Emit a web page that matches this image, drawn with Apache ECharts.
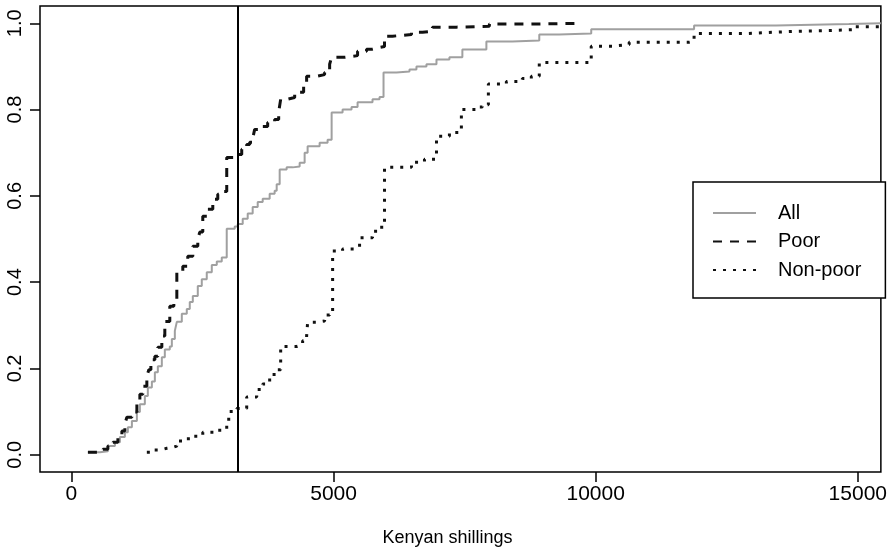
<!DOCTYPE html>
<html>
<head>
<meta charset="utf-8">
<script src="https://cdn.jsdelivr.net/npm/echarts@6/dist/echarts.min.js"></script>
<style>
  html, body { margin: 0; padding: 0; background: #fff; }
  #chart { width: 890px; height: 556px; }
</style>
</head>
<body>
<div id="chart"></div>
<script>
// ECDF step points [shillings, cumulative share]
const allSteps = [
  [314,0.006],[543,0.008],[695,0.020],[829,0.029],[924,0.041],[1019,0.052],[1076,0.064],
  [1153,0.078],[1248,0.099],[1305,0.117],[1400,0.136],[1457,0.156],[1534,0.170],[1591,0.191],
  [1648,0.205],[1724,0.226],[1781,0.244],[1876,0.251],[1915,0.268],[1972,0.287],[2010,0.308],
  [2105,0.327],[2200,0.338],[2257,0.354],[2315,0.368],[2410,0.391],[2486,0.407],[2581,0.423],
  [2677,0.440],[2772,0.448],[2867,0.457],[2962,0.524],[3114,0.529],[3172,0.535],[3267,0.547],
  [3362,0.559],[3457,0.574],[3553,0.586],[3648,0.593],[3781,0.605],[3876,0.612],[3915,0.627],
  [3972,0.661],[4105,0.666],[4220,0.668],[4353,0.677],[4448,0.700],[4505,0.715],[4734,0.723],
  [4886,0.730],[4963,0.793],[5172,0.800],[5343,0.806],[5458,0.817],[5743,0.824],[5877,0.829],
  [5953,0.886],[6201,0.888],[6448,0.893],[6581,0.900],[6772,0.905],[6963,0.916],[7210,0.921],
  [7457,0.939],[7915,0.958],[8410,0.960],[8924,0.974],[9305,0.976],[9915,0.986],[11877,0.995],
  [13439,0.998],[14830,1.0],[15440,1.0]
];
const poorSteps = [
  [314,0.006],[505,0.008],[600,0.013],[695,0.020],[791,0.029],[886,0.043],[962,0.055],
  [1019,0.071],[1057,0.087],[1153,0.099],[1248,0.124],[1305,0.140],[1362,0.159],[1438,0.182],
  [1476,0.197],[1515,0.220],[1591,0.228],[1648,0.249],[1724,0.275],[1781,0.309],[1876,0.344],
  [1953,0.352],[2010,0.423],[2124,0.437],[2219,0.460],[2315,0.483],[2410,0.499],[2448,0.516],
  [2505,0.553],[2600,0.569],[2696,0.592],[2791,0.604],[2886,0.610],[2962,0.689],[3114,0.696],
  [3248,0.708],[3343,0.719],[3400,0.724],[3457,0.733],[3495,0.754],[3629,0.761],[3743,0.770],
  [3876,0.777],[3953,0.794],[3991,0.824],[4124,0.828],[4258,0.835],[4353,0.840],[4429,0.854],
  [4486,0.877],[4677,0.881],[4829,0.886],[4925,0.905],[4963,0.921],[5210,0.925],[5458,0.935],
  [5629,0.940],[5743,0.944],[5877,0.946],[5972,0.970],[6124,0.974],[6486,0.979],[6696,0.981],
  [6886,0.991],[7343,0.993],[7972,0.998],[8734,1.0],[9744,1.0]
];
const nonPoorSteps = [
  [1438,0.006],[1553,0.011],[1686,0.015],[1819,0.017],[1934,0.020],[2010,0.032],[2162,0.037],
  [2315,0.043],[2505,0.052],[2772,0.057],[2905,0.064],[3000,0.100],[3153,0.107],[3343,0.134],
  [3534,0.151],[3648,0.164],[3781,0.186],[3896,0.197],[3991,0.251],[4296,0.255],[4410,0.264],
  [4486,0.275],[4505,0.307],[4677,0.310],[4829,0.324],[4925,0.330],[4982,0.472],[5172,0.477],
  [5401,0.480],[5496,0.503],[5743,0.518],[5877,0.527],[5972,0.666],[6486,0.678],[6734,0.685],
  [6963,0.738],[7210,0.747],[7438,0.800],[7724,0.806],[7838,0.811],[7953,0.859],[8296,0.865],
  [8601,0.872],[8772,0.877],[8924,0.909],[9915,0.947],[10315,0.951],[10639,0.956],[11782,0.958],
  [11877,0.976],[12868,0.979],[13363,0.981],[13744,0.983],[14449,0.985],[14887,0.992],[15440,0.992]
];
const povertyLine = 3170;
const xTicks = [0, 5000, 10000, 15000];
const yTicks = [0, 0.2, 0.4, 0.6, 0.8, 1.0];

const font = "'Liberation Sans', Arial, Helvetica, sans-serif";
const chart = echarts.init(document.getElementById("chart"));

chart.setOption({
  animation: false,
  backgroundColor: "#fff",
  grid: {
    left: 40, right: 8, top: 6, bottom: 84,
    show: true, borderColor: "#000", borderWidth: 1.5, backgroundColor: "transparent"
  },
  xAxis: {
    type: "value",
    min: -600, max: 15440,
    name: "Kenyan shillings",
    nameLocation: "middle",
    nameGap: 57,
    nameTextStyle: { fontFamily: font, fontSize: 18, color: "#000", padding: [0, 26, 0, 0] },
    axisLine: { show: false, onZero: false },
    axisTick: { show: true, length: 10, customValues: xTicks, lineStyle: { color: "#000", width: 1.5 } },
    axisLabel: {
      customValues: xTicks, margin: 12, fontFamily: font, fontSize: 21, color: "#000",
      formatter: v => String(v)
    },
    splitLine: { show: false }
  },
  yAxis: {
    type: "value",
    min: -0.04, max: 1.04,
    axisLine: { show: false, onZero: false },
    axisTick: { show: true, length: 10, customValues: yTicks, lineStyle: { color: "#000", width: 1.5 } },
    axisLabel: {
      customValues: yTicks, rotate: 90, margin: 15,
      fontFamily: font, fontSize: 20, color: "#000",
      formatter: v => v.toFixed(1)
    },
    splitLine: { show: false }
  },
  legend: {
    orient: "vertical",
    left: 693, top: 182,
    padding: [20, 24, 17, 19],
    itemWidth: 43, itemHeight: 14, itemGap: 6.5,
    borderColor: "#000", borderWidth: 1.5, backgroundColor: "#fff",
    selectedMode: false,
    itemStyle: { opacity: 0 },
    textStyle: { fontFamily: font, fontSize: 20, color: "#000", lineHeight: 22, padding: [0, 0, 0, 17] },
    data: ["All", "Poor", "Non-poor"]
  },
  series: [
    {
      name: "All", type: "line", step: "end", symbol: "none", showSymbol: false,
      data: allSteps,
      lineStyle: { color: "#a0a0a0", width: 2 },
      itemStyle: { color: "#a0a0a0" },
      markLine: {
        silent: true, symbol: "none", label: { show: false },
        lineStyle: { color: "#000", width: 2, type: "solid" },
        data: [{ xAxis: povertyLine }]
      }
    },
    {
      name: "Poor", type: "line", step: "end", symbol: "none", showSymbol: false,
      data: poorSteps,
      lineStyle: { color: "#111", width: 3, type: [9, 8], cap: "butt" },
      itemStyle: { color: "#111" }
    },
    {
      name: "Non-poor", type: "line", step: "end", symbol: "none", showSymbol: false,
      data: nonPoorSteps,
      lineStyle: { color: "#111", width: 3, type: [3, 7], cap: "butt" },
      itemStyle: { color: "#111" }
    }
  ]
});
</script>
</body>
</html>
